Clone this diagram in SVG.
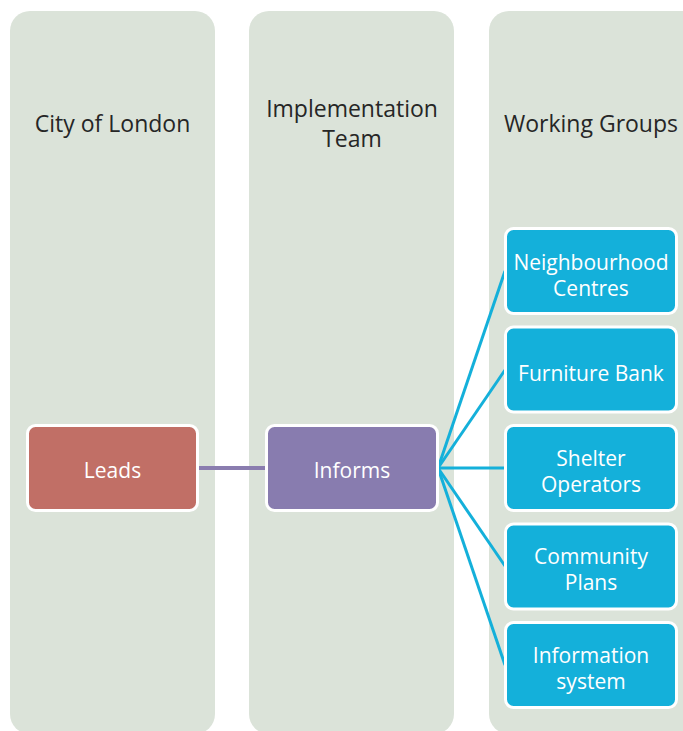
<svg xmlns="http://www.w3.org/2000/svg" width="683" height="731" viewBox="0 0 683 731">
<style>
.col{fill:#DBE3D9;}
.hdr{font-family:"Open Sans","Liberation Sans",sans-serif;font-size:23px;fill:#262626;text-anchor:middle;}
.box{stroke:#FFFFFF;stroke-width:3;}
.lbl{font-family:"Open Sans","Liberation Sans",sans-serif;font-size:21px;fill:#FFFFFF;text-anchor:middle;}
.blue{fill:#14B0DA;}
.bl{stroke:#14B0DA;stroke-width:3;fill:none;}
</style>
<rect width="683" height="731" fill="#FFFFFF"/>
<g id="col-city">
<rect class="col" x="10" y="11" width="205" height="723" rx="20"/>
<text class="hdr" x="112.5" y="132">City of London</text>
</g>
<g id="col-impl">
<rect class="col" x="249" y="11" width="205" height="723" rx="20"/>
<text class="hdr" x="352" y="117">Implementation</text>
<text class="hdr" x="352" y="147">Team</text>
</g>
<g id="col-wg">
<rect class="col" x="489" y="11" width="215" height="723" rx="20"/>
<text class="hdr" x="591" y="132">Working Groups</text>
</g>
<g id="connectors">
<line x1="197" y1="468" x2="268" y2="468" stroke="#8A7DAF" stroke-width="4"/>
<line class="bl" x1="438" y1="468" x2="505" y2="271"/>
<line class="bl" x1="438" y1="468" x2="505" y2="370"/>
<line class="bl" x1="438" y1="468" x2="505" y2="468"/>
<line class="bl" x1="438" y1="468" x2="505" y2="566"/>
<line class="bl" x1="438" y1="468" x2="505" y2="665"/>
</g>
<g id="leads">
<rect class="box" x="27.5" y="425.5" width="170" height="85" rx="8" fill="#C16F66"/>
<text class="lbl" x="112.5" y="478">Leads</text>
</g>
<g id="informs">
<rect class="box" x="266.5" y="425.5" width="171" height="85" rx="8" fill="#887CAF"/>
<text class="lbl" x="352" y="478">Informs</text>
</g>
<g id="neighbourhood">
<rect class="box blue" x="505.5" y="228.5" width="171" height="85" rx="8"/>
<text class="lbl" x="591" y="270">Neighbourhood</text>
<text class="lbl" x="591" y="296">Centres</text>
</g>
<g id="furniture">
<rect class="box blue" x="505.5" y="327" width="171" height="85" rx="8"/>
<text class="lbl" x="591" y="381">Furniture Bank</text>
</g>
<g id="shelter">
<rect class="box blue" x="505.5" y="425.5" width="171" height="85" rx="8"/>
<text class="lbl" x="591" y="466">Shelter</text>
<text class="lbl" x="591" y="492">Operators</text>
</g>
<g id="community">
<rect class="box blue" x="505.5" y="524" width="171" height="85" rx="8"/>
<text class="lbl" x="591" y="564">Community</text>
<text class="lbl" x="591" y="590">Plans</text>
</g>
<g id="information">
<rect class="box blue" x="505.5" y="622.5" width="171" height="85" rx="8"/>
<text class="lbl" x="591" y="663">Information</text>
<text class="lbl" x="591" y="689">system</text>
</g>
</svg>
